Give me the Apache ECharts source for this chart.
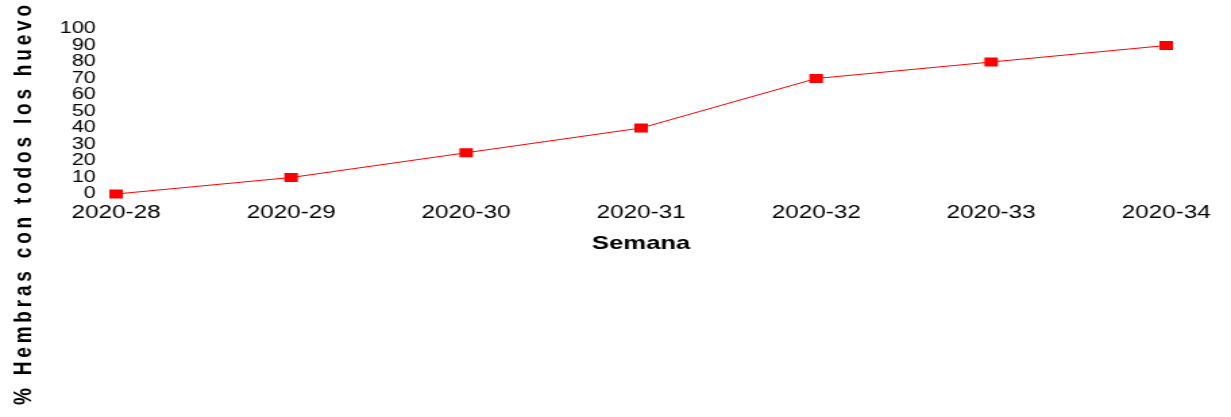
<!DOCTYPE html>
<html>
<head>
<meta charset="utf-8">
<script src="https://cdn.jsdelivr.net/npm/echarts@6/dist/echarts.min.js"></script>
<style>
  html, body { margin: 0; padding: 0; background: #fff; overflow: hidden; }
  #wrap { width: 1231px; height: 417px; overflow: hidden; }
  #chart { width: 912px; height: 417px; transform: scaleX(1.34978); transform-origin: 0 0; }
</style>
</head>
<body>
<div id="wrap"><div id="chart"></div></div>
<script>
// ---- data ----
const categories = ['2020-28', '2020-29', '2020-30', '2020-31', '2020-32', '2020-33', '2020-34'];
const values = [0, 10, 25, 40, 70, 80, 90];
const yMin = 0;
const yMax = 100;
const yStep = 10;
const xTitle = 'Semana';
const yTitle = '% Hembras con todos los huevo';

// letter-spaced title (thin spaces between glyphs)
const spacedYTitle = Array.from(yTitle).join('\u2009');

const chart = echarts.init(document.getElementById('chart'), null, { renderer: 'canvas' });
const FONT = '"Liberation Sans", Arial, Helvetica, sans-serif';

chart.setOption({
  animation: false,
  backgroundColor: '#ffffff',
  grid: { left: 86, right: 48, top: 29, bottom: 223, outerBoundsMode: 'none', containLabel: false },
  xAxis: {
    type: 'category',
    data: categories,
    boundaryGap: false,
    axisLine: { show: false },
    axisTick: { show: false },
    splitLine: { show: false },
    axisLabel: { color: '#000', fontFamily: FONT, fontSize: 18, margin: 10, interval: 0 },
    name: xTitle,
    nameLocation: 'middle',
    nameGap: 40,
    nameTextStyle: { color: '#000', fontFamily: FONT, fontSize: 19, fontWeight: 'bold' }
  },
  yAxis: {
    type: 'value',
    min: yMin,
    max: yMax,
    interval: yStep,
    axisLine: { show: false },
    axisTick: { show: false },
    splitLine: { show: false },
    axisLabel: { color: '#000', fontFamily: FONT, fontSize: 16, margin: 15 }
  },
  graphic: [{
    type: 'text',
    x: 17.5,
    y: 405,
    rotation: Math.PI / 2,
    silent: true,
    style: {
      text: spacedYTitle,
      fill: '#000',
      font: 'bold 19px ' + FONT,
      textAlign: 'left',
      textVerticalAlign: 'middle',
      align: 'left',
      verticalAlign: 'middle'
    }
  }],
  series: [{
    type: 'line',
    data: values,
    symbol: 'rect',
    symbolSize: [10, 9],
    showAllSymbol: true,
    lineStyle: { color: '#ff0000', width: 1 },
    itemStyle: { color: '#ff0000' },
    emphasis: { disabled: true }
  }]
});
</script>
</body>
</html>
